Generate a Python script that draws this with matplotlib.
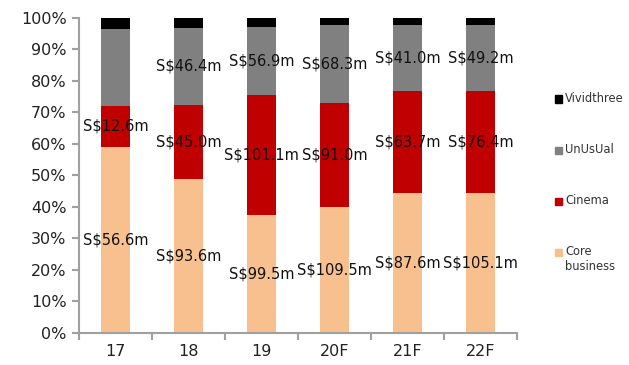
import matplotlib
matplotlib.use("Agg")
import matplotlib.pyplot as plt
import numpy as np
from matplotlib.patches import Rectangle

categories = ["17", "18", "19", "20F", "21F", "22F"]
core = [56.6, 93.6, 99.5, 109.5, 87.6, 105.1]
cinema = [12.6, 45.0, 101.1, 91.0, 63.7, 76.4]
unusual = [23.3, 46.4, 56.9, 68.3, 41.0, 49.2]
vivid = [3.4, 6.3, 8.0, 6.0, 4.4, 5.4]
core_labels = ["S$56.6m", "S$93.6m", "S$99.5m", "S$109.5m", "S$87.6m", "S$105.1m"]
cinema_labels = ["S$12.6m", "S$45.0m", "S$101.1m", "S$91.0m", "S$63.7m", "S$76.4m"]
unusual_labels = ["", "S$46.4m", "S$56.9m", "S$68.3m", "S$41.0m", "S$49.2m"]
series_names = ["Core business", "Cinema", "UnUsUal", "Vividthree"]
legend_names = ["Core\nbusiness", "Cinema", "UnUsUal", "Vividthree"]
colors = ["#F8C08F", "#C00000", "#808080", "#000000"]

data = np.array([core, cinema, unusual, vivid], dtype=float)
pct = data / data.sum(axis=0) * 100
labels = [core_labels, cinema_labels, unusual_labels, [""] * 6]

fig = plt.figure(figsize=(6.29, 3.65), dpi=100)
ax = fig.add_axes([0.1256, 0.0877, 0.6964, 0.8633])
x = np.arange(len(categories))
bottom = np.zeros(len(categories))
for i in range(4):
    ax.bar(x, pct[i], 0.4, bottom=bottom, color=colors[i], label=series_names[i], zorder=2)
    for j in range(len(categories)):
        if labels[i][j]:
            ax.text(x[j], bottom[j] + pct[i][j] / 2, labels[i][j], ha="center", va="center",
                    fontsize=10.5, color="#111111", zorder=3)
    bottom += pct[i]

ax.set_xlim(-0.5, len(categories) - 0.5)
ax.set_ylim(0, 100)
ax.set_yticks(np.arange(0, 101, 10))
ax.set_yticklabels([f"{v}%" for v in range(0, 101, 10)], fontsize=11.5, color="#222222")
ax.set_xticks(x)
ax.set_xticklabels(categories, fontsize=11.5, color="#222222")
ax.set_xticks(np.arange(-0.5, len(categories), 1), minor=True)
ax.tick_params(axis="x", which="major", length=0, pad=8)
ax.tick_params(axis="x", which="minor", length=5, width=1.5, color="#A0A0A0", direction="out")
ax.tick_params(axis="y", length=5, width=1.5, color="#A0A0A0", direction="out", pad=4)
for s in ["top", "right"]:
    ax.spines[s].set_visible(False)
for s in ["left", "bottom"]:
    ax.spines[s].set_color("#A0A0A0")
    ax.spines[s].set_linewidth(1.5)

# legend (reversed order, drawn manually to match spacing)
ys = [252, 201, 150, 99]
for i in range(3, -1, -1):
    yc = ys[i]
    fig.add_artist(Rectangle((555 / 629, 1 - (yc + 3.5) / 365), 7 / 629, 7 / 365,
                             transform=fig.transFigure, color=colors[i]))
    fig.text(565 / 629, 1 - (yc - 7) / 365, legend_names[i], ha="left", va="top",
             fontsize=8.3, color="#333333", linespacing=1.15)

fig.savefig("out.png", dpi=100)
